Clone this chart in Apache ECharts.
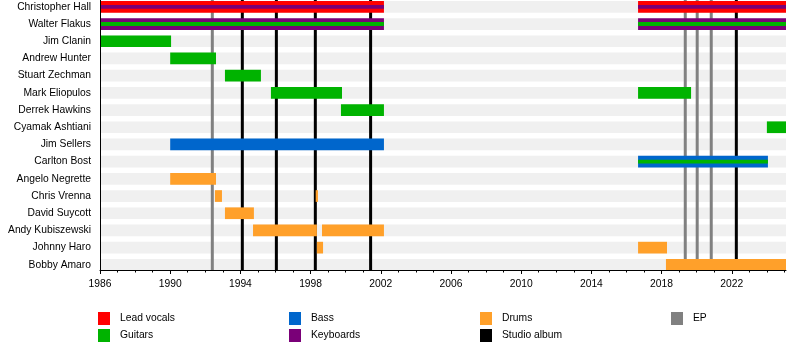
<!DOCTYPE html>
<html><head><meta charset="utf-8">
<script src="https://cdn.jsdelivr.net/npm/echarts@6/dist/echarts.min.js"></script>
<style>html,body{margin:0;padding:0;background:#fff}#c{width:800px;height:350px}</style>
</head><body><div id="c"></div>
<script>
// ---- data ----
const members = ['Christopher Hall','Walter Flakus','Jim Clanin','Andrew Hunter','Stuart Zechman','Mark Eliopulos','Derrek Hawkins','Cyamak Ashtiani','Jim Sellers','Carlton Bost','Angelo Negrette','Chris Vrenna','David Suycott','Andy Kubiszewski','Johnny Haro','Bobby Amaro'];
const roles = ['Lead vocals','Guitars','Bass','Keyboards','Drums'];
// [member index, start year, end year, main role, stripe role (-1 none)]
const periods = [
  [0, 1986, 2002.18, 0, 3],
  [0, 2016.66, 2025.09, 0, 3],
  [1, 1986, 2002.18, 3, 1],
  [1, 2016.66, 2025.09, 3, 1],
  [2, 1986, 1990.05, 1, -1],
  [3, 1990, 1992.61, 1, -1],
  [4, 1993.12, 1995.17, 1, -1],
  [5, 1995.74, 1999.79, 1, -1],
  [5, 2016.66, 2019.68, 1, -1],
  [6, 1999.73, 2002.18, 1, -1],
  [7, 2024.0, 2025.09, 1, -1],
  [8, 1990, 2002.18, 2, -1],
  [9, 2016.66, 2024.06, 2, 1],
  [10, 1990, 1992.61, 4, -1],
  [11, 1992.55, 1992.95, 4, -1],
  [11, 1998.29, 1998.42, 4, -1],
  [12, 1993.12, 1994.77, 4, -1],
  [13, 1994.72, 1998.36, 4, -1],
  [13, 1998.65, 2002.18, 4, -1],
  [14, 1998.36, 1998.71, 4, -1],
  [14, 2016.66, 2018.31, 4, -1],
  [15, 2018.25, 2025.09, 4, -1]
];
const studioAlbums = [1994.11, 1996.05, 1998.27, 2001.42, 2022.26];
const eps = [1992.40, 2019.35, 2020.03, 2020.83];
const startYear = 1986;
const endYear = 2025.09;
const majorTickYears = [1986, 1990, 1994, 1998, 2002, 2006, 2010, 2014, 2018, 2022];
const minorTickYears = [1986, 1987, 1988, 1989, 1990, 1991, 1992, 1993, 1994, 1995, 1996, 1997, 1998, 1999, 2000, 2001, 2002, 2003, 2004, 2005, 2006, 2007, 2008, 2009, 2010, 2011, 2012, 2013, 2014, 2015, 2016, 2017, 2018, 2019, 2020, 2021, 2022, 2023, 2024, 2025];

// ---- style ----
const roleColors = ['#ff0000', '#00b300', '#0066cc', '#7a0078', '#ffa02a'];
const FONT = 'Liberation Sans';
const FS = 10.3;
const Y_MIN = -0.398, Y_MAX = 15.30, BAR_H = 0.68;

const chart = echarts.init(document.getElementById('c'), null, {renderer: 'canvas'});

function bandItem(params, api) {
  const i = api.value(0);
  const a = api.coord([startYear, i]);
  const b = api.coord([endYear, i]);
  const h = api.size([0, BAR_H])[1];
  return {type: 'rect', shape: {x: a[0], y: a[1] - h / 2, width: b[0] - a[0], height: h}, style: {fill: '#f0f0f0'}};
}
function lineItem(color) {
  return function (params, api) {
    const x = api.value(0);
    const a = api.coord([x, Y_MIN]);
    const b = api.coord([x, Y_MAX]);
    return {type: 'line', shape: {x1: a[0], y1: a[1], x2: b[0], y2: b[1]}, style: {stroke: color, lineWidth: 3}};
  };
}
function barItem(params, api) {
  const m = api.value(0), s = api.value(1), e = api.value(2), r = api.value(3), r2 = api.value(4);
  const a = api.coord([s, m]);
  const b = api.coord([e, m]);
  const h = api.size([0, BAR_H])[1];
  const w = b[0] - a[0];
  const children = [{type: 'rect', shape: {x: a[0], y: a[1] - h / 2, width: w, height: h}, style: {fill: roleColors[r]}}];
  if (r2 >= 0) children.push({type: 'rect', shape: {x: a[0], y: a[1] - h / 6, width: w, height: h / 3}, style: {fill: roleColors[r2]}});
  return {type: 'group', children};
}

const legendCommon = {
  orient: 'vertical', top: 312, padding: 0, itemWidth: 12, itemHeight: 13, itemGap: 4,
  icon: 'rect', selectedMode: false,
  textStyle: {fontFamily: FONT, fontSize: FS, color: '#000', padding: [0, 0, 0, 5]}
};

const series = [
  {type: 'custom', name: 'bands', data: members.map((_, i) => [i]), renderItem: bandItem, z: 1, silent: true,
   xAxisIndex: 0, yAxisIndex: 0, encode: {x: -1, y: 0}},
  {type: 'custom', name: 'Studio album', data: studioAlbums.map(v => [v]), renderItem: lineItem('#000000'), z: 2,
   itemStyle: {color: '#000000'}, xAxisIndex: 0, yAxisIndex: 0, encode: {x: 0}},
  {type: 'custom', name: 'EP', data: eps.map(v => [v]), renderItem: lineItem('#808080'), z: 2,
   itemStyle: {color: '#808080'}, xAxisIndex: 0, yAxisIndex: 0, encode: {x: 0}},
  {type: 'custom', name: 'members', data: periods, renderItem: barItem, z: 3,
   xAxisIndex: 0, yAxisIndex: 0, encode: {x: [1, 2], y: 0}}
];
roles.forEach((r, i) => series.push({type: 'scatter', name: r, data: [], itemStyle: {color: roleColors[i], opacity: 1}, xAxisIndex: 0, yAxisIndex: 0}));

chart.setOption({
  animation: false,
  backgroundColor: '#fff',
  textStyle: {fontFamily: FONT},
  grid: [
    {left: 100, right: 14, top: 0, height: 270},
    {left: 100, right: 14, top: 0, height: 270}
  ],
  xAxis: [
    {type: 'value', gridIndex: 0, position: 'bottom', min: startYear, max: endYear, interval: 4, z: 10,
     axisLine: {show: true, onZero: false, lineStyle: {color: '#000', width: 1}},
     axisTick: {show: true, length: 4, customValues: majorTickYears, lineStyle: {color: '#000'}},
     axisLabel: {fontFamily: FONT, fontSize: FS, color: '#000', margin: 9, customValues: majorTickYears, formatter: v => String(v)},
     splitLine: {show: false}},
    {type: 'value', gridIndex: 1, position: 'bottom', min: startYear, max: endYear, interval: 4, z: 10,
     axisLine: {show: false, onZero: false},
     axisTick: {show: true, length: 2.5, customValues: minorTickYears, lineStyle: {color: '#000'}},
     axisLabel: {show: false},
     splitLine: {show: false}}
  ],
  yAxis: [
    {type: 'value', gridIndex: 0, inverse: true, min: Y_MIN, max: Y_MAX, z: 10,
     axisLine: {show: true, onZero: false, lineStyle: {color: '#000', width: 1}},
     axisTick: {show: false},
     axisLabel: {fontFamily: FONT, fontSize: FS, color: '#000', margin: 9,
       customValues: members.map((_, i) => i), formatter: v => members[Math.round(v)] || ''},
     splitLine: {show: false}},
    {type: 'value', gridIndex: 1, show: false, min: 0, max: 1}
  ],
  legend: [
    Object.assign({left: 98, data: ['Lead vocals', 'Guitars']}, legendCommon),
    Object.assign({left: 289, data: ['Bass', 'Keyboards']}, legendCommon),
    Object.assign({left: 480, data: ['Drums', 'Studio album']}, legendCommon),
    Object.assign({left: 671, data: ['EP']}, legendCommon)
  ],
  series
});
</script></body></html>
